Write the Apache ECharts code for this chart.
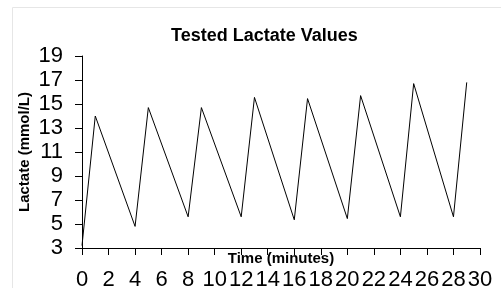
<!DOCTYPE html>
<html>
<head>
<meta charset="utf-8">
<script src="https://cdn.jsdelivr.net/npm/echarts@6/dist/echarts.min.js"></script>
<style>
  html, body { margin: 0; padding: 0; background: #fff; }
  #chart { width: 501px; height: 288px; }
</style>
</head>
<body>
<div id="chart"></div>
<script>
// minutes and lactate readings
var times = [0, 1, 4, 5, 8, 9, 12, 13, 16, 17, 20, 21, 24, 25, 28, 29];
var lactate = [3.2, 14.0, 4.8, 14.7, 5.6, 14.7, 5.6, 15.55, 5.35, 15.45, 5.45, 15.7, 5.6, 16.7, 5.6, 16.8];

var font = "Liberation Sans, Arial, sans-serif";

var chart = echarts.init(document.getElementById("chart"));
chart.setOption({
  animation: false,
  title: {
    text: "Tested Lactate Values",
    left: 166,
    top: 22,
    textStyle: { fontFamily: font, fontSize: 18, fontWeight: "bold", color: "#000" }
  },
  graphic: [{
    type: "rect",
    shape: { x: 12.5, y: 7.5, width: 500, height: 300 },
    style: { fill: "none", stroke: "#e6e6e6", lineWidth: 1 },
    silent: true
  }],
  grid: { left: 82, right: 21, top: 56, bottom: 40, outerBoundsMode: "none" },
  xAxis: {
    type: "value",
    min: 0, max: 30, interval: 2,
    name: "Time (minutes)",
    nameLocation: "middle",
    nameGap: 3,
    nameMoveOverlap: false,
    nameTextStyle: { fontFamily: font, fontSize: 15, fontWeight: "bold", color: "#000" },
    axisLine: { lineStyle: { color: "#000", width: 1 } },
    axisTick: { length: 7, lineStyle: { color: "#000" } },
    splitLine: { show: false },
    axisLabel: { fontFamily: font, fontSize: 22, color: "#000", margin: 21 }
  },
  yAxis: {
    type: "value",
    min: 3, max: 19, interval: 2,
    name: "Lactate (mmol/L)",
    nameLocation: "middle",
    nameGap: 50,
    nameRotate: 90,
    nameMoveOverlap: false,
    nameTextStyle: { fontFamily: font, fontSize: 15, fontWeight: "bold", color: "#000" },
    axisLine: { show: true, lineStyle: { color: "#000", width: 1 } },
    axisTick: { show: true, length: 7, lineStyle: { color: "#000" } },
    splitLine: { show: false },
    axisLabel: { fontFamily: font, fontSize: 22, color: "#000", margin: 19 }
  },
  series: [{
    type: "line",
    data: times.map(function (t, i) { return [t, lactate[i]]; }),
    showSymbol: false,
    lineStyle: { color: "#000", width: 1 }
  }]
});
</script>
</body>
</html>
